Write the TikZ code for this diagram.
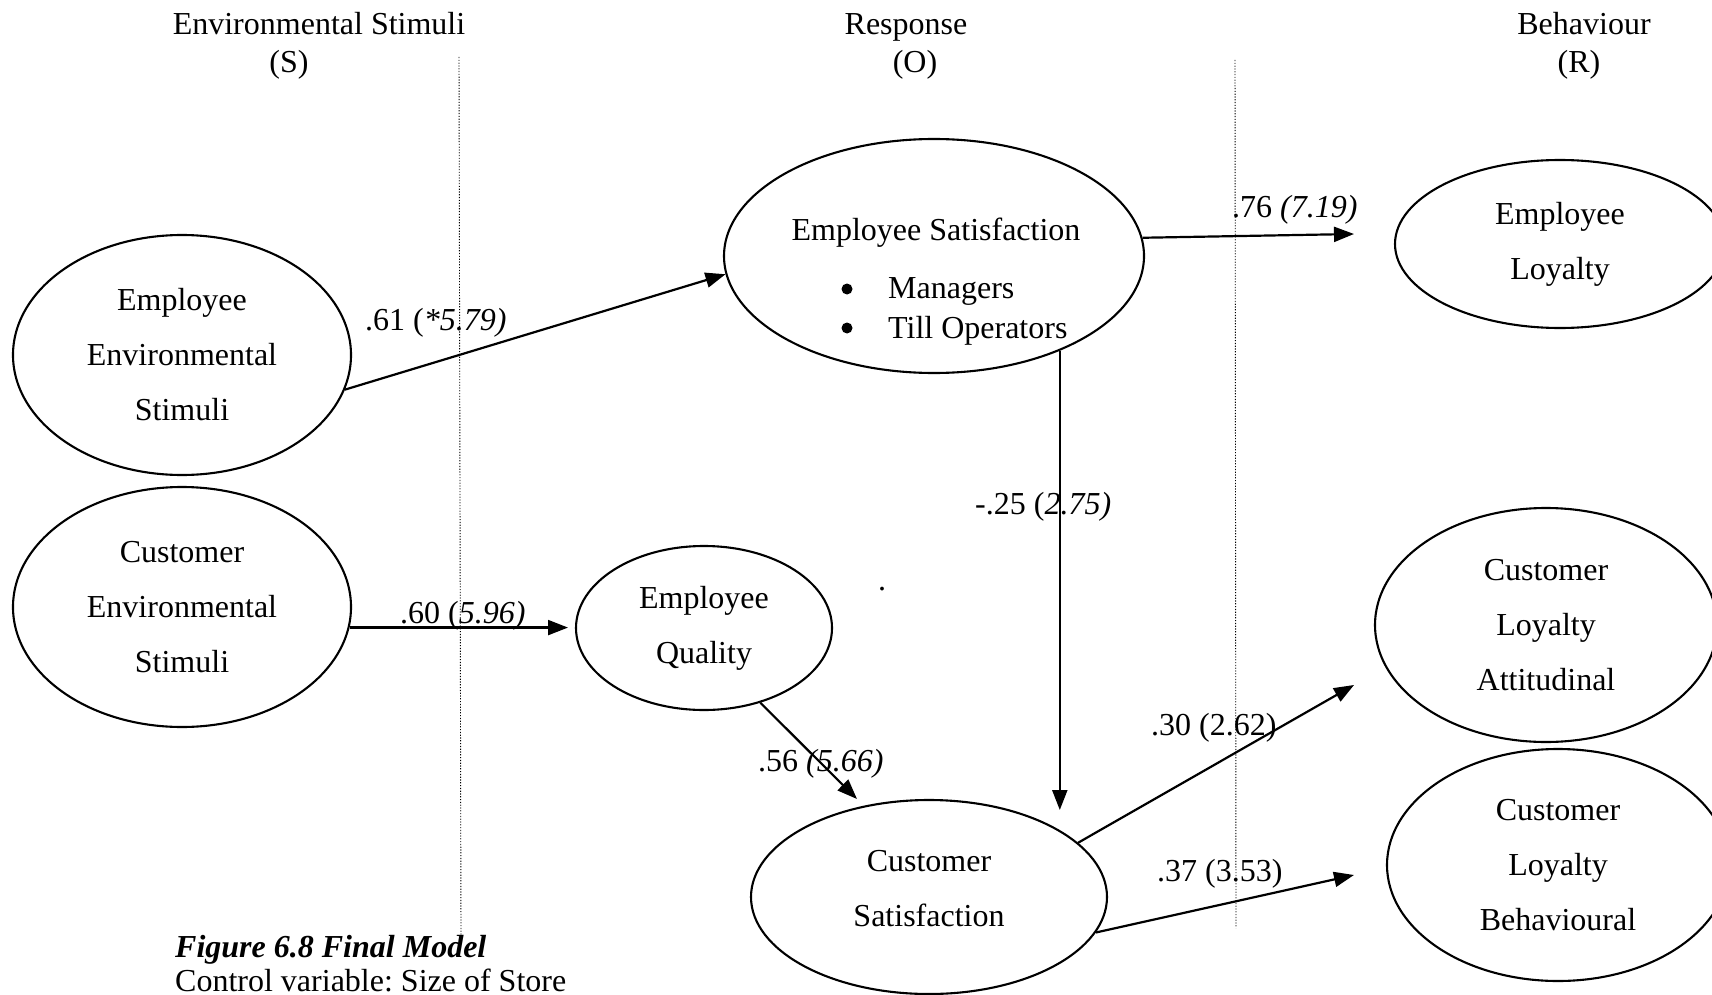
\documentclass[tikz,border=0pt]{standalone}
\usepackage{fontspec}
\setmainfont{Liberation Serif}
\frenchspacing
\usetikzlibrary{arrows.meta,shapes.geometric}
\begin{document}
\begin{tikzpicture}[x=1pt,y=-1pt,
  ell/.style={ellipse, draw, line width=2.1pt, inner sep=0pt, align=center,
              font=\fontsize{32}{55}\selectfont},
  arr/.style={line width=2.2pt, -{Triangle[length=20pt,width=15pt]}},
  lbl/.style={anchor=base west, inner sep=0pt, font=\fontsize{32}{38}\selectfont},
  hdr/.style={anchor=base, inner sep=0pt, font=\fontsize{32}{38}\selectfont},
  bullet/.style={circle, fill, inner sep=0pt, minimum size=11pt},
  divider/.style={line width=0.9pt, dash pattern=on 1.2pt off 1.6pt}]

\path[use as bounding box, clip] (0,0) rectangle (1712,995);

% column headings
\node[hdr] (hS)  at (319,35) {Environmental Stimuli};
\node[hdr] (hS2) at (289,73) {(S)};
\node[hdr] (hO)  at (906,35) {Response};
\node[hdr] (hO2) at (915,73) {(O)};
\node[hdr] (hR)  at (1584,35) {Behaviour};
\node[hdr] (hR2) at (1579,73) {(R)};

% dotted dividers between the columns
\coordinate (d1top) at (459,57);  \coordinate (d1bot) at (461,938);
\coordinate (d2top) at (1235,60); \coordinate (d2bot) at (1236,928);
\draw[divider] (d1top) -- (d1bot);
\draw[divider] (d2top) -- (d2bot);

% constructs
\node[ell, minimum width=338, minimum height=240] (ees) at (182,355)
  {Employee\\Environmental\\Stimuli};
\node[ell, minimum width=338, minimum height=240] (ces) at (182,607)
  {Customer\\Environmental\\Stimuli};
\node[ell, minimum width=420, minimum height=234] (es) at (934,256) {};
\node[hdr] (esT) at (936,240) {Employee Satisfaction};
\node[bullet] (b1) at (847,289) {};
\node[lbl] (esM) at (888,298) {Managers};
\node[bullet] (b2) at (847,328) {};
\node[lbl] (esO) at (888,338) {Till Operators};
\node[ell, minimum width=256, minimum height=164] (eq) at (704,628)
  {Employee\\Quality};
\node[ell, minimum width=356, minimum height=194] (cs) at (929,897)
  {Customer\\Satisfaction\rule[-18pt]{0pt}{0pt}};
\node[ell, minimum width=330, minimum height=168] (el) at (1560,244)
  {Employee\\Loyalty};
\node[ell, minimum width=342, minimum height=234] (cla) at (1546,625)
  {Customer\\Loyalty\\Attitudinal};
\node[ell, minimum width=342, minimum height=232] (clb) at (1558,865)
  {Customer\\Loyalty\\Behavioural};

% free arrow ends
\coordinate (elTip)  at (1354,234);
\coordinate (csTip)  at (0,810);
\coordinate (eqTip)  at (568,0);
\coordinate (cs2Tip) at (857,799);
\coordinate (claTip) at (1354,685);
\coordinate (clbTip) at (1354,875);

% paths
\draw[arr] (ees.-12) -- (es.185);
\draw[arr] (es.5) -- (elTip);
\draw[arr] (es.-37) -- (es.-37 |- csTip);
\draw[arr] (ces.-7) -- (ces.-7 -| eqTip);
\draw[arr] (eq.-53) -- (cs2Tip);
\draw[arr] (cs.20) -- (claTip);
\draw[arr] (cs.-12) -- (clbTip);

% path coefficients
\node[lbl] (l61) at (365,330) {.61 (\textit{*5.79)}};
\node[lbl] (l76) at (1232,217) {.76 \textit{(7.19)}};
\node[lbl] (l25) at (975,514) {-.25 (\textit{2.75)}};
\node[lbl] (l60) at (400,623) {.60 (\textit{5.96)}};
\node[lbl] (l56) at (758,771) {.56 \textit{(5.66)}};
\node[lbl] (l30) at (1151,735) {.30 (2.62)};
\node[lbl] (l37) at (1157,881) {.37 (3.53)};
\node[hdr] (dot) at (882,590) {.};

% caption
\node[lbl] (cap1) at (175,957) {\textbf{\textit{Figure 6.8 Final Model}}};
\node[lbl] (cap2) at (175,991) {Control variable: Size of Store};
\end{tikzpicture}
\end{document}
